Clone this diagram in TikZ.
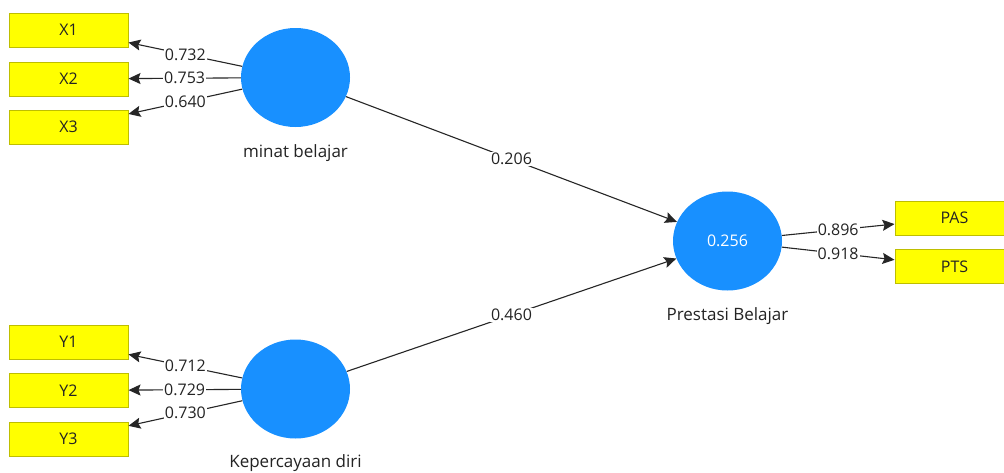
\documentclass[tikz,border=0pt]{standalone}
\usepackage{fontspec}
\setmainfont{Open Sans}
\usetikzlibrary{arrows.meta,shapes.geometric}
\definecolor{latent}{RGB}{24,144,255}
\definecolor{indfill}{RGB}{255,255,0}
\definecolor{indedge}{RGB}{190,190,0}
\definecolor{txt}{RGB}{35,35,35}
\tikzset{
  ind/.style={draw=indedge, line width=1pt, fill=indfill, minimum width=119pt, minimum height=34pt, inner sep=0pt, text=txt, font=\fontsize{16}{18}\selectfont},
  lat/.style={ellipse, fill=latent, minimum width=109pt, minimum height=99pt, inner sep=0pt, text=white, font=\fontsize{16}{18}\selectfont},
  latname/.style={text=txt, font=\fontsize{17}{19}\selectfont},
  link/.style={draw=black!85, line width=1.1pt, -{Stealth[length=12pt,width=11pt,inset=2pt]}},
  coef/.style={fill=white, inner sep=1pt, text=txt, font=\fontsize{16}{18}\selectfont}
}
\begin{document}
\begin{tikzpicture}[x=1pt,y=-1pt]
\clip (0,0) rectangle (1004,472);
\fill[white] (0,0) rectangle (1004,472);
% indicators
\node[ind] (x1) at (68.5,30) {X1};
\node[ind] (x2) at (68.5,79) {X2};
\node[ind] (x3) at (68.5,127) {X3};
\node[ind] (y1) at (68.5,342) {Y1};
\node[ind] (y2) at (68.5,390.5) {Y2};
\node[ind] (y3) at (68.5,439) {Y3};
\node[ind] (pas) at (954.5,218) {PAS};
\node[ind] (pts) at (954.5,266.5) {PTS};
% latent variables
\node[lat] (minat) at (295.5,77.5) {};
\node[lat] (kep) at (295.5,389) {};
\node[lat] (pres) at (727.5,241) {0.256};
\node[latname] at (295.5,153) {minat belajar};
\node[latname] at (295.5,463) {Kepercayaan diri};
\node[latname] at (727.5,316) {Prestasi Belajar};
% outer loadings
\draw[link] (minat) -- node[coef] {0.732} (x1);
\draw[link] (minat) -- node[coef] {0.753} (x2);
\draw[link] (minat) -- node[coef] {0.640} (x3);
\draw[link] (kep) -- node[coef] {0.712} (y1);
\draw[link] (kep) -- node[coef] {0.729} (y2);
\draw[link] (kep) -- node[coef] {0.730} (y3);
\draw[link] (pres) -- node[coef] {0.896} (pas);
\draw[link] (pres) -- node[coef] {0.918} (pts);
% path coefficients
\draw[link] (minat) -- node[coef] {0.206} (pres);
\draw[link] (kep) -- node[coef] {0.460} (pres);
\end{tikzpicture}
\end{document}
